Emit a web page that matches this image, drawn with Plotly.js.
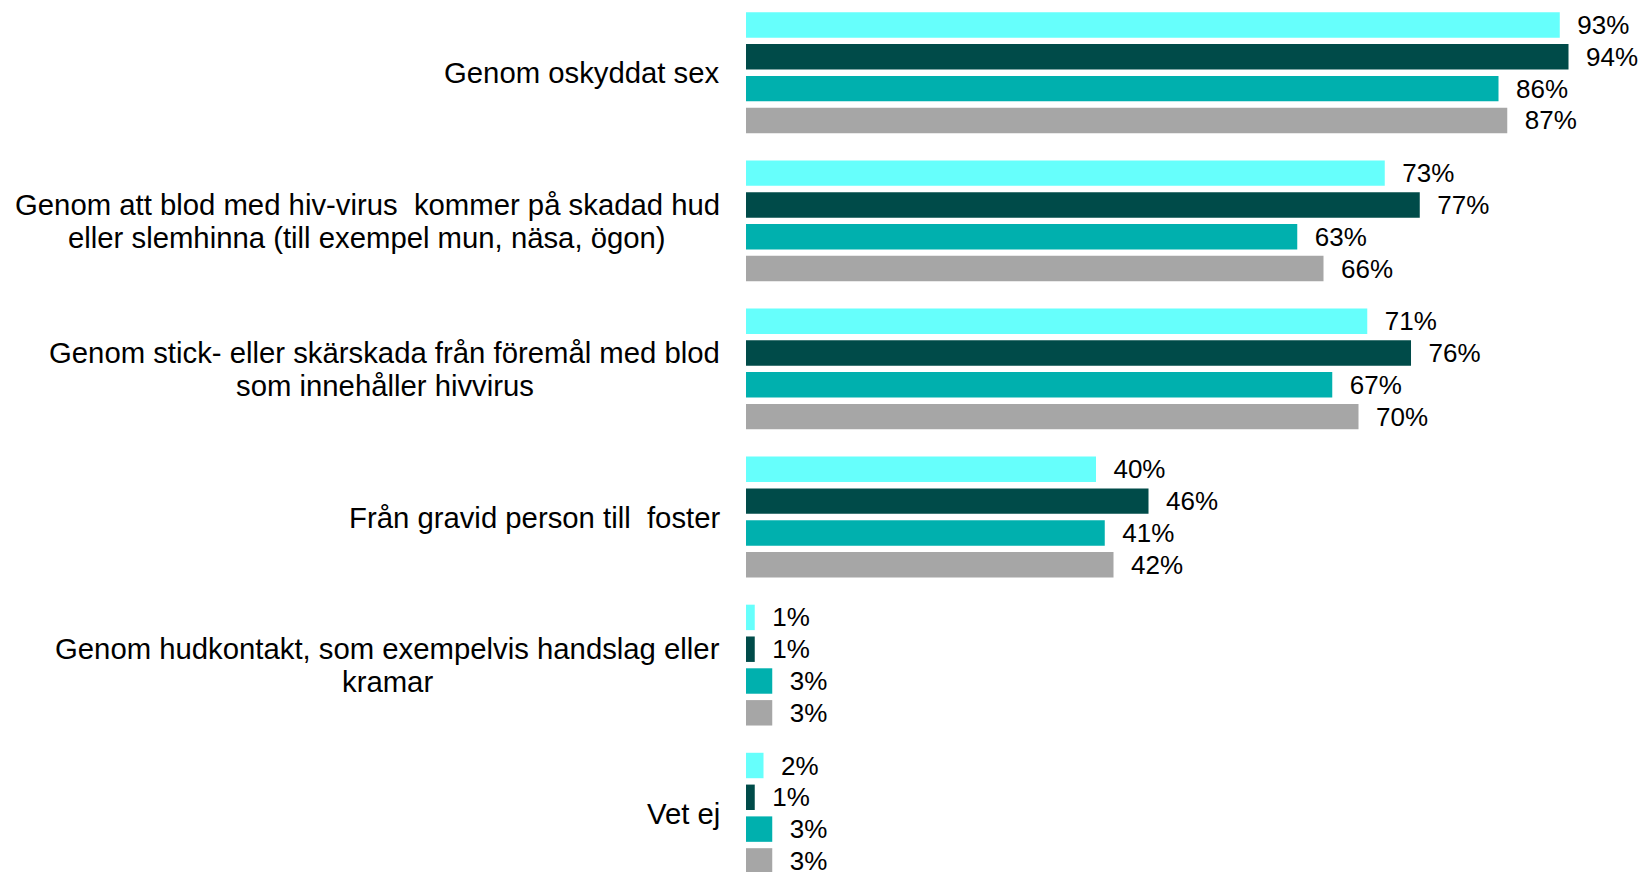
<!DOCTYPE html>
<html>
<head>
<meta charset="utf-8">
<script src="https://cdn.plot.ly/plotly-3.0.1.min.js"></script>
<style>
  html, body { margin: 0; padding: 0; background: #ffffff; }
  #chart { width: 1640px; height: 872px; }
</style>
</head>
<body>
<div id="chart"></div>
<script>
// Categories (top to bottom); "<br>" marks a line break in the label
const categories = [
  "Genom oskyddat sex",
  "Genom att blod med hiv-virus\u00a0 kommer på skadad hud<br>eller slemhinna (till exempel mun, näsa, ögon)",
  "Genom stick- eller skärskada från föremål med blod<br>som innehåller hivvirus",
  "Från gravid person till\u00a0 foster",
  "Genom hudkontakt, som exempelvis handslag eller<br>kramar",
  "Vet ej"
];

// Four series (unnamed in the picture), in top-to-bottom order within each group
const series1 = [93, 73, 71, 40, 1, 2];
const series2 = [94, 77, 76, 46, 1, 1];
const series3 = [86, 63, 67, 41, 3, 3];
const series4 = [87, 66, 70, 42, 3, 3];

const seriesValues = [series1, series2, series3, series4];
const seriesColors = ["#66FFFC", "#004B49", "#00B0AE", "#A6A6A6"];

const FONT = "Liberation Sans, Arial, Helvetica, sans-serif";
const LABEL_SIZE = 29.3;
const VALUE_SIZE = 26;
const LABEL_LINE_GAP = 32.4;   // px between label lines
const LABEL_RIGHT_GAP = 26;    // px between label block and bars

const traces = seriesValues.map((vals, i) => ({
  type: "bar",
  orientation: "h",
  x: vals,
  y: categories,
  marker: { color: seriesColors[i], line: { width: 0 } },
  text: vals.map(v => "\u00a0\u00a0" + v + "%"),
  textposition: "outside",
  textfont: { family: FONT, size: VALUE_SIZE, color: "#000000" },
  constraintext: "none",
  cliponaxis: false,
  hoverinfo: "skip",
  showlegend: false
}));

// measure label lines so each multi-line label is centred, block right-aligned
const ctx = document.createElement("canvas").getContext("2d");
ctx.font = LABEL_SIZE + "px 'Liberation Sans', Arial, sans-serif";

const annotations = [];
categories.forEach(c => {
  const lines = c.split("<br>");
  const maxW = Math.max(...lines.map(l => ctx.measureText(l).width));
  const n = lines.length;
  lines.forEach((line, k) => {
    annotations.push({
      xref: "paper",
      yref: "y",
      x: 0,
      y: c,
      xanchor: "center",
      yanchor: "middle",
      xshift: -LABEL_RIGHT_GAP - maxW / 2,
      yshift: ((n - 1) / 2 - k) * LABEL_LINE_GAP,
      align: "center",
      showarrow: false,
      text: line,
      font: { family: FONT, size: LABEL_SIZE, color: "#000000" }
    });
  });
});

const layout = {
  width: 1640,
  height: 872,
  margin: { l: 746, r: 0, t: 0, b: 0, pad: 0 },
  paper_bgcolor: "#ffffff",
  plot_bgcolor: "#ffffff",
  barmode: "group",
  bargap: 0.141,
  bargroupgap: 0.2,
  font: { family: FONT, color: "#000000" },
  xaxis: {
    range: [0, 102.17],
    showgrid: false,
    zeroline: false,
    showline: false,
    showticklabels: false,
    ticks: "",
    fixedrange: true
  },
  yaxis: {
    type: "category",
    categoryorder: "array",
    categoryarray: categories,
    range: [5.397, -0.491],
    showgrid: false,
    zeroline: false,
    showline: false,
    showticklabels: false,
    ticks: "",
    fixedrange: true
  },
  annotations: annotations,
  showlegend: false
};

Plotly.newPlot("chart", traces, layout, { displayModeBar: false, staticPlot: true });
</script>
</body>
</html>
